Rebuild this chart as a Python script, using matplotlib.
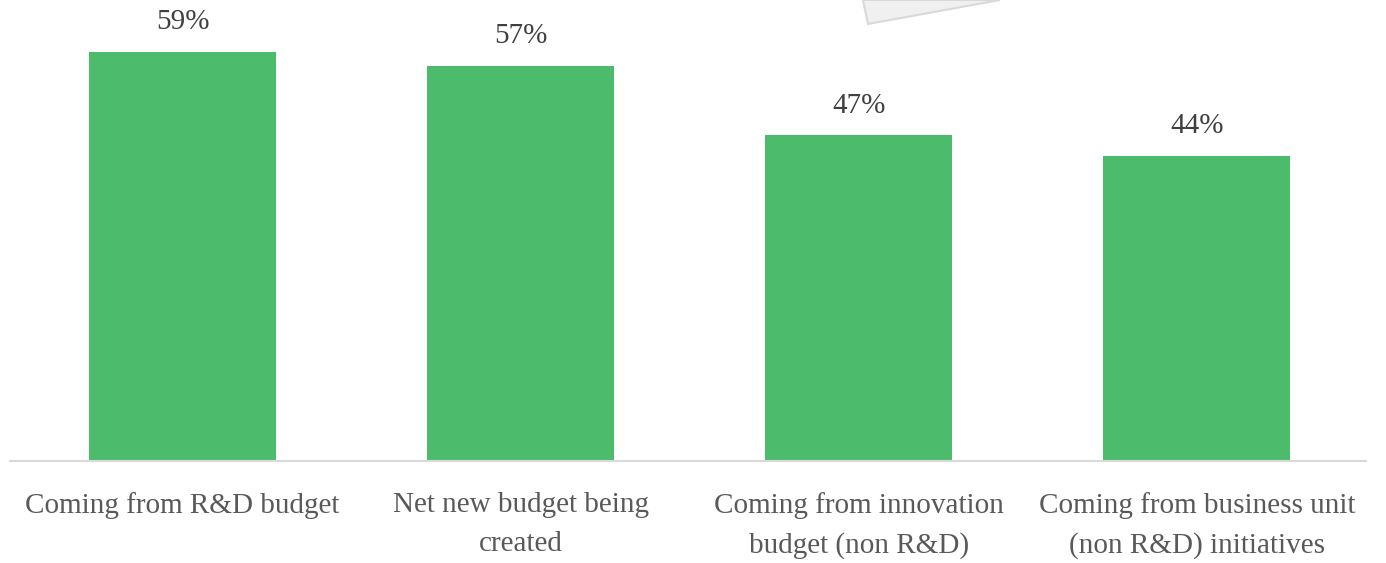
import matplotlib
matplotlib.use("Agg")
import matplotlib.pyplot as plt
from matplotlib.patches import Polygon

categories = [
    "Coming from R&D budget",
    "Net new budget being\ncreated",
    "Coming from innovation\nbudget (non R&D)",
    "Coming from business unit\n(non R&D) initiatives",
]
values = [59, 57, 47, 44]
value_labels = ["59%", "57%", "47%", "44%"]

plt.rcParams["font.family"] = ["Liberation Serif", "DejaVu Serif"]

fig = plt.figure(figsize=(13.86, 5.63), dpi=100)

# decorative card peeking in at the top
card = Polygon([(863 / 1386, 1.0), (868 / 1386, 1 - 24 / 563), (1000 / 1386, 1.0)],
               closed=True, transform=fig.transFigure, facecolor="#f0f0f0",
               edgecolor="#d9d9d9", linewidth=1.5, zorder=0)
fig.patches.append(card)

ax = fig.add_axes([10 / 1386, 102 / 563, 1356 / 1386, 461 / 563])
x = list(range(len(categories)))
bars = ax.bar(x, values, width=0.553, color="#4dbb6c", zorder=2)

for xi, v, lab in zip(x, values, value_labels):
    ax.annotate(lab, (xi, v), xytext=(0, 12), textcoords="offset points",
                ha="center", va="bottom", fontsize=21, color="#404040",
                annotation_clip=False)

ax.set_xlim(-0.51, 3.50)
ax.set_ylim(0, 66.5)
ax.set_xticks(x)
ax.set_xticklabels(categories, fontsize=21, color="#595959", linespacing=1.68)
ax.tick_params(axis="x", length=0, pad=22)
ax.set_yticks([])
ax.patch.set_alpha(0)
for side in ["top", "left", "right"]:
    ax.spines[side].set_visible(False)
ax.spines["bottom"].set_color("#d9d9d9")
ax.spines["bottom"].set_linewidth(1.5)

fig.savefig("out.png", dpi=100)
